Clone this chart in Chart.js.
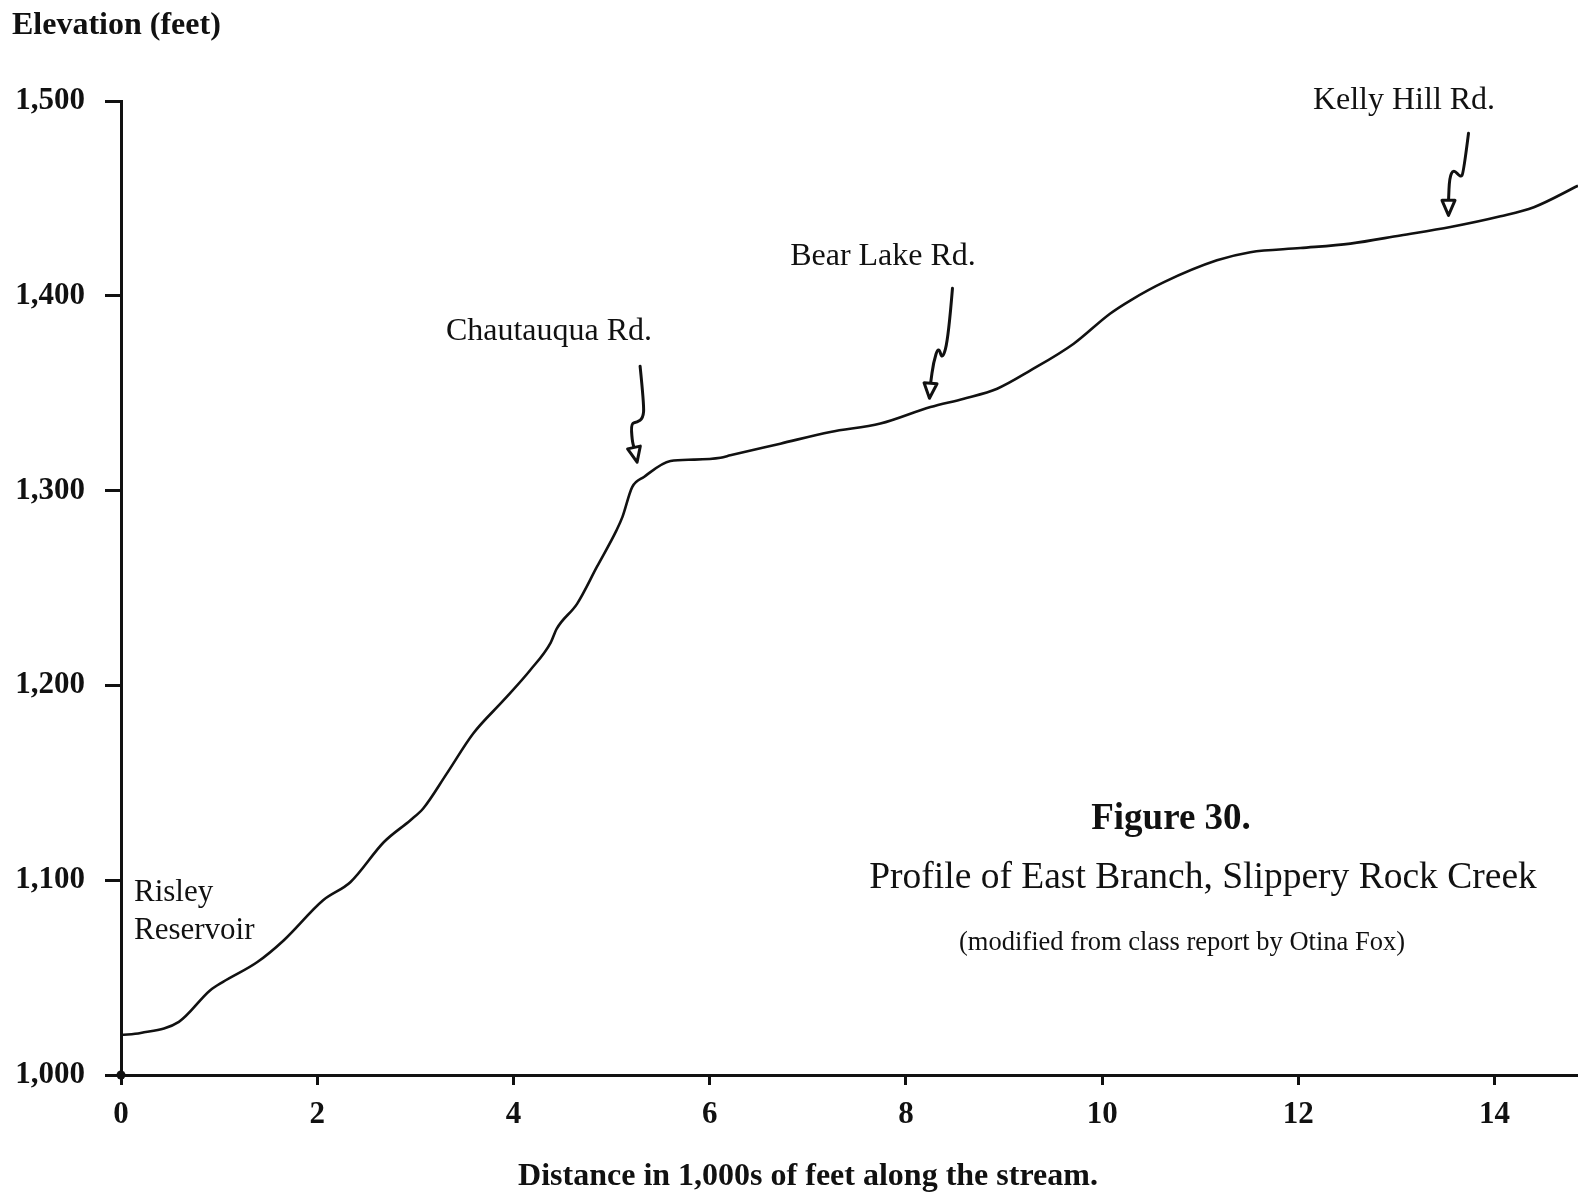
<!DOCTYPE html>
<html>
<head>
<meta charset="utf-8">
<title>Profile of East Branch, Slippery Rock Creek</title>
<script src="https://cdn.jsdelivr.net/npm/chart.js@4.4.1/dist/chart.umd.min.js"></script>
<style>
  html, body { margin: 0; padding: 0; background: #fff; }
  canvas { display: block; }
</style>
</head>
<body>
<canvas id="profile" width="1578" height="1199"></canvas>
<script>
// stream profile: distance (1,000s of ft) vs elevation (ft)
const distance = [
  0, 0.2, 0.59, 0.91, 1.04, 1.39, 1.66, 2.06, 2.34, 2.68, 2.95, 3.08,
  3.32, 3.59, 3.9, 4.17, 4.38, 4.44, 4.65, 4.85, 5.05, 5.11, 5.21, 5.33,
  5.6, 5.84, 6.11, 6.21, 6.72, 7.23, 7.74, 8.25, 8.59, 8.93, 9.27, 9.71,
  10.08, 10.29, 10.63, 11.17, 11.51, 12.02, 12.53, 13.04, 13.55, 14.06, 14.4, 14.85
];
const elevation = [
  1020.5, 1021.6, 1027.3, 1043.5, 1047.8, 1058, 1069.2, 1089.7, 1099.1, 1119.6, 1130.8, 1136.8,
  1154.7, 1175.3, 1192.4, 1207.8, 1222, 1229, 1242, 1260.8, 1279.6, 1286.4, 1301.8, 1307,
  1315.2, 1315.9, 1316.9, 1318.1, 1324.1, 1330.1, 1334.4, 1342.9, 1347.2, 1352.3, 1361.7, 1375.4,
  1390.8, 1397.7, 1407, 1418.2, 1422.4, 1424.5, 1426.8, 1431, 1435.3, 1440.8, 1445.5, 1456.5
];

// road crossings: label + where the arrow points (distance, elevation)
const roadNames = ["Chautauqua Rd.", "Bear Lake Rd.", "Kelly Hill Rd."];
const roadDistance = [5.26, 8.24, 13.53];
const roadElevation = [1314.6, 1347.4, 1441.3];

const xTicks = [0, 2, 4, 6, 8, 10, 12, 14];
const yTicks = [1000, 1100, 1200, 1300, 1400, 1500];

const SERIF = "'Liberation Serif', 'Times New Roman', serif";
const INK = "#111";

// hand-drawn squiggle for each arrow, px offsets from the tip
const arrowShapes = [
  [[3, -96], [7, -57], [6, -44], [0, -40], [-6, -39], [-5, -22], [-3, -14]],
  [[23, -110], [19, -61], [13, -38], [9, -52], [4, -36], [1, -14]],
  [[20, -82], [15, -42], [12, -38], [5, -46], [1, -38], [0, -14]]
];
const labelPos = [[549, 332], [883, 257], [1404, 101]];

function drawArrow(ctx, tx, ty, shape) {
  const pts = shape.map(([dx, dy]) => [tx + dx, ty + dy]);
  ctx.beginPath();
  ctx.moveTo(pts[0][0], pts[0][1]);
  for (let i = 1; i < pts.length - 1; i++) {
    const mx = (pts[i][0] + pts[i + 1][0]) / 2;
    const my = (pts[i][1] + pts[i + 1][1]) / 2;
    ctx.quadraticCurveTo(pts[i][0], pts[i][1], mx, my);
  }
  const end = pts[pts.length - 1];
  ctx.lineTo(end[0], end[1]);
  ctx.stroke();

  // open triangular head
  let dx = tx - end[0], dy = ty - end[1];
  const len = Math.hypot(dx, dy) || 1;
  dx /= len; dy /= len;
  const bx = tx - dx * 15, by = ty - dy * 15;
  ctx.beginPath();
  ctx.moveTo(tx, ty);
  ctx.lineTo(bx - dy * 6.5, by + dx * 6.5);
  ctx.lineTo(bx + dy * 6.5, by - dx * 6.5);
  ctx.closePath();
  ctx.fillStyle = "#fff";
  ctx.fill();
  ctx.stroke();
}

const annotations = {
  id: "annotations",
  afterDatasetsDraw(chart) {
    const { ctx, scales: { x, y } } = chart;
    ctx.save();
    ctx.strokeStyle = INK;
    ctx.lineWidth = 3;
    ctx.lineCap = "round";
    ctx.lineJoin = "round";

    // dot at the origin
    ctx.beginPath();
    ctx.arc(x.getPixelForValue(0), y.getPixelForValue(1000), 4.5, 0, Math.PI * 2);
    ctx.fillStyle = INK;
    ctx.fill();

    roadNames.forEach((name, i) => {
      drawArrow(ctx, x.getPixelForValue(roadDistance[i]), y.getPixelForValue(roadElevation[i]), arrowShapes[i]);
      ctx.fillStyle = INK;
      ctx.font = "32px " + SERIF;
      ctx.textAlign = "center";
      ctx.textBaseline = "middle";
      ctx.fillText(name, labelPos[i][0], labelPos[i][1]);
    });

    ctx.fillStyle = INK;
    ctx.textBaseline = "middle";
    ctx.textAlign = "left";
    ctx.font = "31px " + SERIF;
    ctx.fillText("Risley", 134, 893);
    ctx.fillText("Reservoir", 134, 931);

    ctx.font = "bold 32px " + SERIF;
    ctx.fillText("Elevation (feet)", 12, 26);

    ctx.textAlign = "center";
    ctx.font = "bold 37px " + SERIF;
    ctx.fillText("Figure 30.", 1171, 819);
    ctx.font = "37.5px " + SERIF;
    ctx.fillText("Profile of East Branch, Slippery Rock Creek", 1203, 878);
    ctx.font = "26.5px " + SERIF;
    ctx.fillText("(modified from class report by Otina Fox)", 1182, 943);

    ctx.font = "bold 32px " + SERIF;
    ctx.fillText("Distance in 1,000s of feet along the stream.", 808, 1177);
    ctx.restore();
  }
};

new Chart(document.getElementById("profile"), {
  type: "scatter",
  data: {
    datasets: [{
      data: distance.map((d, i) => ({ x: d, y: elevation[i] })),
      showLine: true,
      borderColor: INK,
      borderWidth: 2.6,
      pointRadius: 0,
      cubicInterpolationMode: "monotone",
      clip: false
    }]
  },
  options: {
    responsive: false,
    animation: false,
    devicePixelRatio: 1,
    layout: { padding: { top: 101, right: 0, left: 0, bottom: 0 } },
    plugins: { legend: { display: false }, tooltip: { enabled: false } },
    scales: {
      x: {
        type: "linear",
        min: 0,
        max: 14.85,
        afterFit: (s) => { s.height = 124; },
        afterBuildTicks: (s) => { s.ticks = xTicks.map((v) => ({ value: v })); },
        ticks: {
          color: INK,
          padding: 11,
          maxRotation: 0,
          font: { family: SERIF, size: 31, weight: "bold" }
        },
        grid: { drawOnChartArea: false, drawTicks: true, tickLength: 10, tickWidth: 3, color: INK },
        border: { display: true, color: INK, width: 3 }
      },
      y: {
        type: "linear",
        min: 1000,
        max: 1500,
        afterFit: (s) => { s.width = 121; },
        afterBuildTicks: (s) => { s.ticks = yTicks.map((v) => ({ value: v })); },
        ticks: {
          color: INK,
          padding: 20,
          callback: (v) => v.toLocaleString("en-US"),
          font: { family: SERIF, size: 31, weight: "bold" }
        },
        grid: { drawOnChartArea: false, drawTicks: true, tickLength: 16, tickWidth: 3, color: INK },
        border: { display: true, color: INK, width: 3 }
      }
    }
  },
  plugins: [annotations]
});
</script>
</body>
</html>
